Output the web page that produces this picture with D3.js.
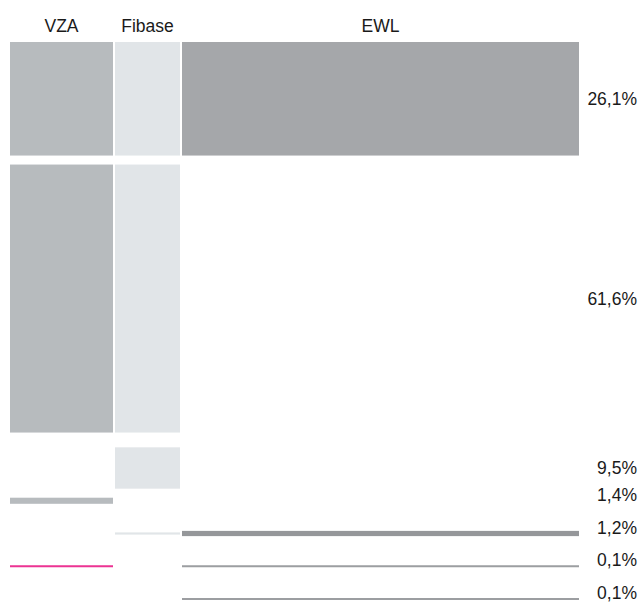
<!DOCTYPE html>
<html><head><meta charset="utf-8">
<script src="https://cdn.jsdelivr.net/npm/d3@7"></script>
<style>html,body{margin:0;padding:0;background:#fff}svg{display:block}</style>
</head><body>
<svg id="c" width="640" height="603"></svg>
<script>
// ---- data ----
const columns = ["VZA", "Fibase", "EWL"];
const columnShare = [103, 65, 397];
const rowLabels = ["26,1%", "61,6%", "9,5%", "1,4%", "1,2%", "0,1%", "0,1%"];
const rowValues = [26.1, 61.6, 9.5, 1.4, 1.2, 0.1, 0.1];
const vzaValues    = [26.1, 61.6, 0,   1.4, 0,   0.1, 0];
const fibaseValues = [26.1, 61.6, 9.5, 0,   0.5, 0,   0];
const ewlValues    = [26.1, 0,    0,   0,   1.2, 0.1, 0.1];

(function () {
// ---- layout ----
const svg = d3.select("#c");
const font = "'Liberation Sans', Arial, Helvetica, sans-serif";
const fs = 17.5;
const left = 10, right = 579, gapX = 2;
const totalShare = d3.sum(columnShare);
const xw = d3.scaleLinear().domain([0, totalShare]).range([0, right - left - gapX * (columns.length - 1)]);
const colX = [];
let acc = left;
columnShare.forEach((s, i) => { colX.push(acc); acc += xw(s) + gapX; });
const colW = columnShare.map(s => xw(s));

const h = d3.scaleLinear().domain([0, 61.6]).range([0, 268]);
const hh = v => Math.max(2, h(v));

// row centers: large rows stacked from top, small rows on an even grid
const startY = 42, gapY = 9;
const centers = [];
let y = startY;
rowValues.forEach((v, i) => {
  if (i < 2) { centers.push(y + hh(v) / 2); y += hh(v) + gapY; }
});
const small = d3.scalePoint().domain(d3.range(2, rowValues.length)).range([468, 599]);
for (let i = 2; i < rowValues.length; i++) centers.push(small(i));

const series = [vzaValues, fibaseValues, ewlValues];
const colColors = ["#b7bbbe", "#e1e5e8", "#a5a7aa"];
const cells = [];
series.forEach((vals, c) => vals.forEach((v, r) => { if (v > 0) cells.push({c, r, v}); }));

function cellColor(d) {
  if (d.c === 0 && hh(d.v) <= 2) return "#ec3393";
  if (d.c === 2 && hh(d.v) <= 2) return "#9c9ea1";
  if (d.c === 2 && d.r === 4) return "#95979a";
  return colColors[d.c];
}

svg.selectAll("rect.cell").data(cells).join("rect")
  .attr("class", "cell")
  .attr("x", d => colX[d.c])
  .attr("width", d => colW[d.c])
  .attr("y", d => centers[d.r] - hh(d.v) / 2)
  .attr("height", d => hh(d.v))
  .attr("fill", cellColor);

// column headers
svg.selectAll("text.hdr").data(columns).join("text")
  .attr("class", "hdr")
  .attr("x", (d, i) => colX[i] + colW[i] / 2)
  .attr("y", 32)
  .attr("text-anchor", "middle")
  .attr("font-family", font).attr("font-size", fs).attr("fill", "#1a1a1a")
  .text(d => d);

// row labels
svg.selectAll("text.lbl").data(rowLabels).join("text")
  .attr("class", "lbl")
  .attr("x", 637)
  .attr("y", (d, i) => centers[i] - (hh(rowValues[i]) < 10 ? 6 : 0))
  .attr("dy", "0.35em")
  .attr("text-anchor", "end")
  .attr("font-family", font).attr("font-size", fs).attr("fill", "#1a1a1a")
  .text(d => d);
})();
</script>
</body></html>
